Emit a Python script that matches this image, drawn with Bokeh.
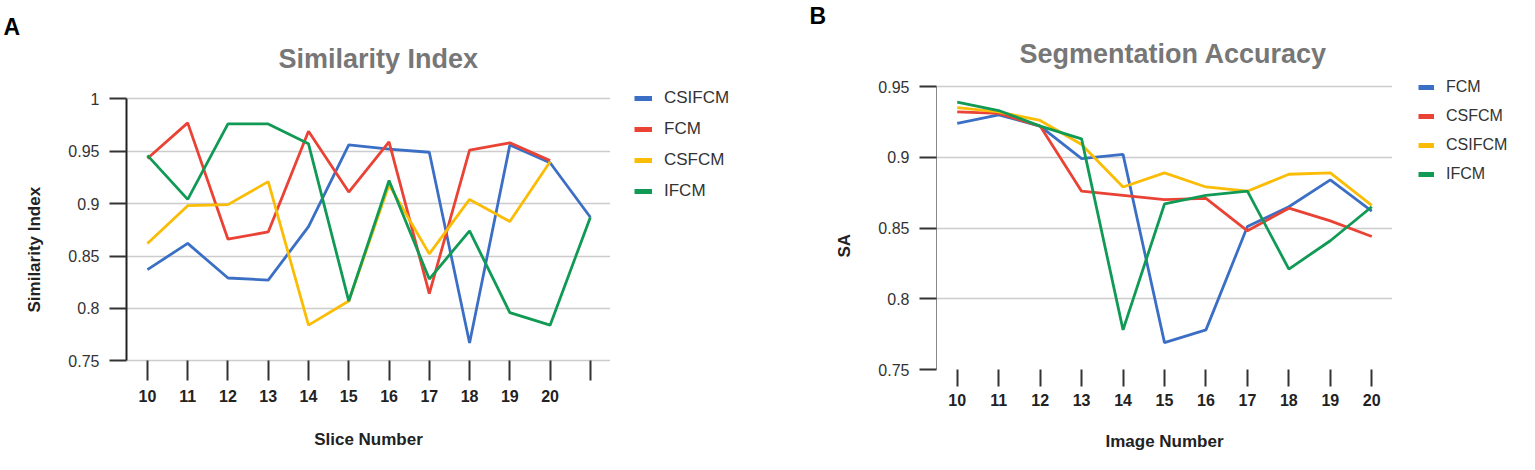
from bokeh.plotting import figure
from bokeh.models import (Range1d, FixedTicker, NumeralTickFormatter, Legend,
                          LegendItem, Title)
from bokeh.layouts import row
from bokeh.embed import file_html
from bokeh.resources import INLINE

# ---------------- data ----------------
# Panel A: Similarity Index
slices = [10, 11, 12, 13, 14, 15, 16, 17, 18, 19, 20, 21]
si_csifcm = [0.837, 0.862, 0.829, 0.827, 0.878, 0.956, 0.952, 0.949, 0.767, 0.956, 0.939, 0.887]
si_fcm = [0.943, 0.977, 0.866, 0.873, 0.969, 0.911, 0.959, 0.814, 0.951, 0.958, 0.941]
si_csfcm = [0.862, 0.898, 0.899, 0.921, 0.784, 0.807, 0.918, 0.852, 0.904, 0.883, 0.940]
si_ifcm = [0.946, 0.904, 0.976, 0.976, 0.957, 0.807, 0.922, 0.828, 0.874, 0.796, 0.784, 0.887]
si_yticks = [0.75, 0.8, 0.85, 0.9, 0.95, 1.0]

# Panel B: Segmentation Accuracy
images = [10, 11, 12, 13, 14, 15, 16, 17, 18, 19, 20]
sa_fcm = [0.924, 0.930, 0.922, 0.899, 0.902, 0.769, 0.778, 0.851, 0.865, 0.884, 0.862]
sa_csfcm = [0.932, 0.931, 0.922, 0.876, 0.873, 0.870, 0.871, 0.848, 0.864, 0.855, 0.844]
sa_csifcm = [0.935, 0.932, 0.926, 0.909, 0.879, 0.889, 0.879, 0.876, 0.888, 0.889, 0.866]
sa_ifcm = [0.939, 0.933, 0.922, 0.913, 0.778, 0.867, 0.873, 0.876, 0.821, 0.841, 0.865]
sa_yticks = [0.75, 0.8, 0.85, 0.9, 0.95]

BLUE, RED, YELLOW, GREEN = "#3b6fc5", "#ea4335", "#fbbc05", "#109a55"
FONT = "Liberation Sans"
H = 466
BT = 76                 # common top border (frames aligned in the row)
FH = 293                # common frame height
BB = H - BT - FH
LW = 2.8


def make_fig(width, bl, xr, yr, ybounds, yticks, xticks, xlabel,
             yaxis_color, yaxis_width, x_standoff, tick_standoff, tick_in, tick_out):
    p = figure(width=width, height=H, x_range=Range1d(*xr), y_range=Range1d(*yr),
               output_backend="svg", toolbar_location=None,
               min_border_left=bl, min_border_right=0,
               min_border_top=BT, min_border_bottom=BB)
    p.outline_line_color = None
    p.xgrid.visible = False
    p.ygrid.grid_line_color = "#cccccc"
    p.ygrid.grid_line_width = 1.5

    ya = p.yaxis[0]
    ya.bounds = ybounds
    ya.ticker = FixedTicker(ticks=yticks)
    ya.formatter = NumeralTickFormatter(format="0.[00]")
    ya.axis_line_color = yaxis_color
    ya.axis_line_width = yaxis_width
    ya.major_tick_out = 17
    ya.major_tick_in = 0
    ya.major_tick_line_color = "#333333"
    ya.major_tick_line_width = 2
    ya.minor_tick_line_color = None
    ya.major_label_standoff = 10
    ya.major_label_text_font = FONT
    ya.major_label_text_font_size = "16px"
    ya.major_label_text_color = "#333333"

    xa = p.xaxis[0]
    xa.ticker = FixedTicker(ticks=xticks)
    xa.axis_line_color = None
    xa.major_tick_out = tick_out
    xa.major_tick_in = tick_in
    xa.major_tick_line_color = "#333333"
    xa.major_tick_line_width = 2
    xa.minor_tick_line_color = None
    xa.major_label_standoff = tick_standoff
    xa.major_label_text_font = FONT
    xa.major_label_text_font_style = "bold"
    xa.major_label_text_font_size = "16px"
    xa.major_label_text_color = "#222222"
    xa.axis_label = xlabel
    xa.axis_label_standoff = x_standoff
    xa.axis_label_text_font = FONT
    xa.axis_label_text_font_style = "bold"
    xa.axis_label_text_font_size = "17px"
    xa.axis_label_text_color = "#222222"
    return p


def legend_fig(width, names, colors, series, loc, fs, gh, sp, gw):
    # legend lives in its own narrow plot; its swatch lines carry the series
    # data but lie outside this plot's view, so only the legend shows them
    lf = figure(width=width, height=H, x_range=Range1d(0, 1), y_range=Range1d(0, 1),
                x_axis_type=None, y_axis_type=None,
                output_backend="svg", toolbar_location=None,
                min_border_left=0, min_border_right=0,
                min_border_top=BT, min_border_bottom=BB)
    lf.outline_line_color = None
    lf.grid.visible = False
    items = []
    for n, c, (xs, ys) in zip(names, colors, series):
        r = lf.line(xs, ys, line_color=c, line_width=5)
        items.append(LegendItem(label=n, renderers=[r]))
    lg = Legend(items=items, location=loc, padding=0, margin=0,
                glyph_width=gw, glyph_height=gh, label_height=gh, spacing=sp,
                label_standoff=12, background_fill_alpha=0, border_line_color=None,
                label_text_font=FONT, label_text_font_size=fs,
                label_text_color="#333333")
    lf.add_layout(lg)
    return lf


def add_titles(p, main, main_offset, main_standoff, letter, letter_offset,
               letter_standoff, ylabel, ylabel_offset):
    p.add_layout(Title(text=main, align="left", offset=main_offset,
                       standoff=main_standoff, vertical_align="bottom",
                       text_font=FONT, text_font_style="bold",
                       text_font_size="27px", text_color="#777777"), "above")
    p.add_layout(Title(text=letter, align="left", offset=letter_offset,
                       standoff=letter_standoff, vertical_align="bottom",
                       text_font=FONT, text_font_style="bold",
                       text_font_size="23px", text_color="#000000"), "above")
    p.add_layout(Title(text=ylabel, align="left", offset=ylabel_offset,
                       standoff=44, vertical_align="bottom",
                       text_font=FONT, text_font_style="bold",
                       text_font_size="17px", text_color="#222222"), "left")


# ---------------- Panel A ----------------
# data 1.0 sits at y=98, 0.75 at y=360 within a frame spanning y=76..369
k1 = 0.05 / 52.4
p1 = make_fig(610, 126, (9.48, 21.5), (0.75 - 8.7 * k1, 1.0 + 22.3 * k1),
              (0.75, 1.0), si_yticks, slices, "Slice Number",
              "#222222", 2, 25, 9, 9, 11)
p1.xaxis[0].major_label_overrides = {21: ""}
p1.line(slices, si_csifcm, line_color=BLUE, line_width=LW)
p1.line(slices[:len(si_fcm)], si_fcm, line_color=RED, line_width=LW)
p1.line(slices[:len(si_csfcm)], si_csfcm, line_color=YELLOW, line_width=LW)
p1.line(slices, si_ifcm, line_color=GREEN, line_width=LW)
add_titles(p1, "Similarity Index", 152, 5, "A", -123, 0, "Similarity Index", 57)
leg1 = legend_fig(198, ["CSIFCM", "FCM", "CSFCM", "IFCM"], [BLUE, RED, YELLOW, GREEN],
                  [(slices, si_csifcm), (slices[:len(si_fcm)], si_fcm),
                   (slices[:len(si_csfcm)], si_csfcm), (slices, si_ifcm)],
                  (24, 168), "17px", 20, 11, 18)

# ---------------- Panel B ----------------
k2 = 0.05 / 70.75
p2 = make_fig(584, 128, (9.5, 20.5), (0.75, 0.95 + 10 * k2),
              (0.75, 0.95), sa_yticks, images, "Image Number",
              "#888888", 1, 23, 7, 0, 17)
p2.line(images, sa_fcm, line_color=BLUE, line_width=LW)
p2.line(images, sa_csfcm, line_color=RED, line_width=LW)
p2.line(images, sa_csifcm, line_color=YELLOW, line_width=LW)
p2.line(images, sa_ifcm, line_color=GREEN, line_width=LW)
add_titles(p2, "Segmentation Accuracy", 83, 16, "B", -127, 0, "SA", 112)
leg2 = legend_fig(127, ["FCM", "CSFCM", "CSIFCM", "IFCM"], [BLUE, RED, YELLOW, GREEN],
                  [(images, sa_fcm), (images, sa_csfcm), (images, sa_csifcm),
                   (images, sa_ifcm)],
                  (26, 186), "16px", 18, 11, 16)

layout = row(p1, leg1, p2, leg2)
open("out.html", "w").write(file_html(layout, INLINE))
